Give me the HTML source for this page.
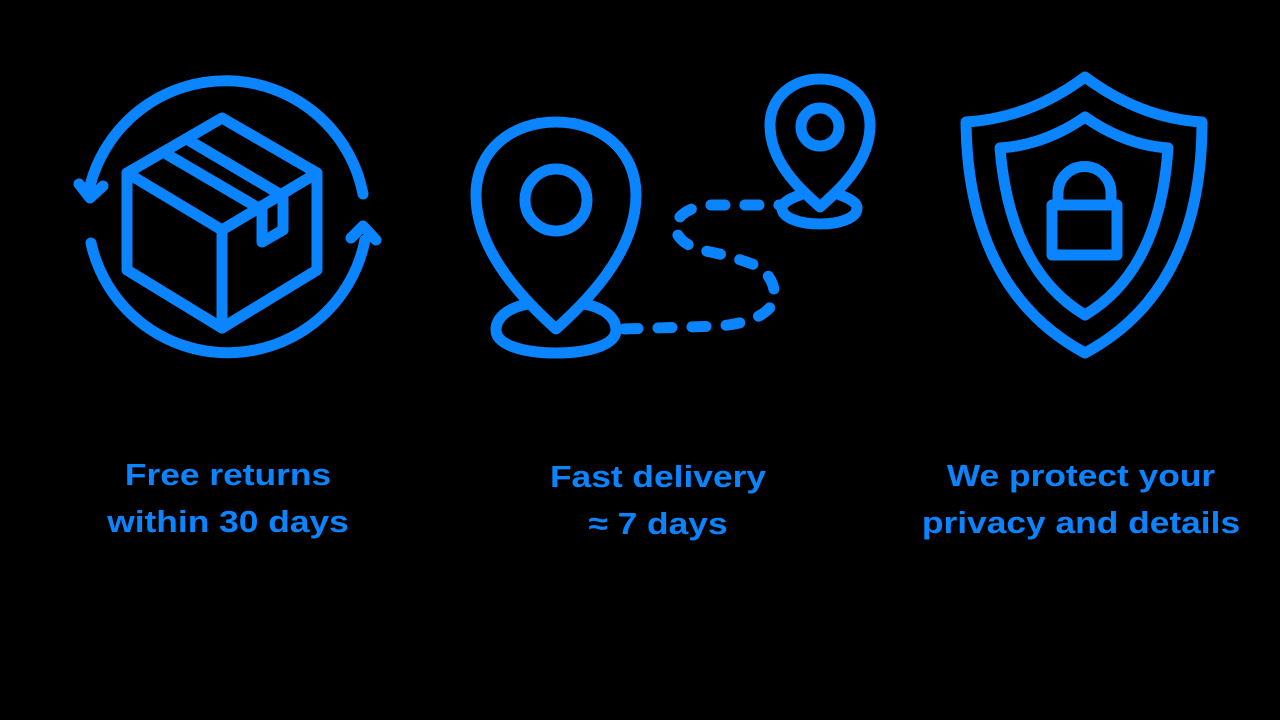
<!DOCTYPE html>
<html><head><style>
html,body{margin:0;background:#000;width:1280px;height:720px;overflow:hidden}
.t{position:absolute;color:#0a84ff;font:bold 31px/47px "Liberation Sans",sans-serif;text-align:center;width:420px;transform:scaleX(1.14);transform-origin:center}
</style></head><body>
<svg width="1280" height="720" style="position:absolute;left:0;top:0" fill="none" stroke="#0a84ff" stroke-width="11" stroke-linecap="round" stroke-linejoin="round">
<path d="M89 190 A140 140 0 0 1 363 194"/>
<path d="M365 240 A140 140 0 0 1 91 243"/>
<path d="M79 184 L90 198 L103 186"/>
<path d="M351 238 L363 226 L376 240"/>
<path d="M222 118 L317 173 L317 270 L222 328 L127 270 L127 173 Z"/>
<path d="M127 173 L222 230 L317 173 M222 230 L222 328"/>
<path d="M168 155 L262 210 M190 141 L283 196 L283 230 L262 242 L262 210"/>
<path d="M556 329 C530 305 476 255 476 195 C476 150 512 122 556 122 C600 122 636 150 636 195 C636 255 582 305 556 329 Z"/>
<circle cx="556" cy="200" r="31"/>
<path d="M528 304 C507 308 496 318 496 330 C496 345 524 353 556 353 C588 353 616 345 616 330 C616 318 605 308 584 304"/>
<path d="M820 207 C805 193 770 165 770 125 C770 98 792 79 820 79 C848 79 870 98 870 125 C870 165 835 193 820 207 Z"/>
<circle cx="820" cy="127" r="19"/>
<path d="M800 195 C788 199 782 204 782 208 C782 218 800 224 820 224 C840 224 857 218 857 208 C857 203 851 199 840 195"/>
<path d="M624 329 L720 326 Q760 322 772 305 Q780 285 760 267 Q730 255 700 250 Q672 240 676 222 Q685 207 710 205 L780 205" stroke-dasharray="14 20"/>
<path d="M1085 77 Q1030 118 966 122 Q968 290 1085 353 Q1202 290 1202 122 Q1140 118 1085 77 Z"/>
<path d="M1085 117 Q1045 145 1000 148 Q1010 270 1085 315 Q1160 270 1168 148 Q1125 145 1085 117 Z"/>
<rect x="1052" y="205" width="65" height="50"/>
<path d="M1058 202 L1058 193 A26 26 0 0 1 1111 193 L1111 202"/>
</svg>
<div class="t" style="left:18px;top:451px">Free returns<br>within 30 days</div>
<div class="t" style="left:448px;top:453px">Fast delivery<br>≈ 7 days</div>
<div class="t" style="left:871px;top:452px">We protect your<br>privacy and details</div>
</body></html>
